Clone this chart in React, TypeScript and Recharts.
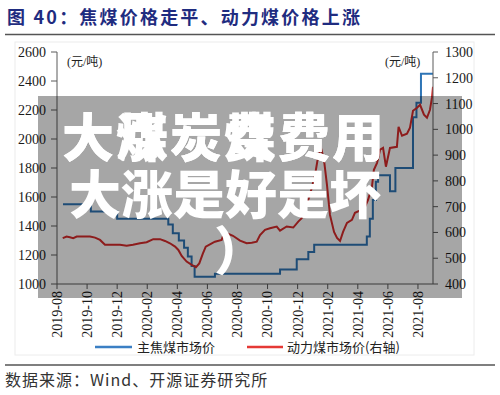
import React from 'react';
import { LineChart, Line, XAxis, YAxis } from 'recharts';

// 主焦煤市场价 (left axis), step series: month index from 2019-08
const cokingMonths = [0.4, 2.25, 4.0, 7.4, 7.7, 8.1, 8.45, 8.7, 8.95, 9.15, 10.5, 14.83, 15.94, 16.71, 17.1, 20.6, 20.8, 21.0, 21.2, 21.35, 22.14, 22.5, 23.67, 23.9, 24.2, 25.0];
const cokingPrices = [1550, 1500, 1450, 1410, 1350, 1300, 1250, 1190, 1125, 1050, 1070, 1100, 1170, 1220, 1270, 1327, 1450, 1580, 1706, 1750, 1640, 1800, 2150, 2250, 2450, 2450];

// 动力煤市场价 (right axis)
const thermalMonths = [0.38, 0.64, 0.86, 1.08, 1.31, 2.19, 2.53, 2.86, 3.19, 3.52, 4.19, 4.63, 5.05, 5.52, 5.96, 6.4, 6.85, 7.18, 7.51, 7.85, 8.07, 8.29, 8.62, 8.96, 9.24, 9.46, 9.69, 9.89, 10.29, 10.5, 10.95, 11.06, 11.28, 11.7, 12.17, 12.61, 12.95, 13.28, 13.5, 13.83, 14.16, 14.61, 14.83, 15.27, 15.71, 16.04, 16.27, 16.49, 16.82, 17.16, 17.35, 17.55, 17.75, 17.95, 18.15, 18.42, 18.62, 18.82, 19.02, 19.28, 19.61, 19.81, 20.28, 20.48, 20.68, 20.94, 21.07, 21.28, 21.48, 21.68, 21.87, 22.14, 22.6, 22.71, 22.94, 23.27, 23.47, 23.67, 23.94, 24.14, 24.4, 24.6, 24.8, 24.93, 25.0];
const thermalPrices = [578, 584, 581, 578, 584, 584, 580, 571, 552, 552, 552, 548, 552, 558, 562, 574, 574, 567, 558, 545, 532, 509, 487, 474, 465, 480, 517, 545, 558, 564, 571, 590, 597, 587, 568, 558, 560, 564, 590, 610, 616, 623, 607, 623, 619, 642, 655, 688, 746, 824, 890, 928, 882, 785, 668, 602, 579, 567, 602, 637, 649, 676, 688, 699, 726, 777, 843, 870, 921, 928, 855, 928, 932, 1010, 975, 983, 1006, 1072, 1084, 1095, 1057, 1045, 1076, 1123, 1165];

const xTickMonths = [0, 2, 4, 6, 8, 10, 12, 14, 16, 18, 20, 22, 24];
const xTickLabels = ['2019-08', '2019-10', '2019-12', '2020-02', '2020-04', '2020-06', '2020-08', '2020-10', '2020-12', '2021-02', '2021-04', '2021-06', '2021-08'];
const leftTicks = [1000, 1200, 1400, 1600, 1800, 2000, 2200, 2400, 2600];
const rightTicks = [400, 500, 600, 700, 800, 900, 1000, 1100, 1200, 1300];

const cokingData = cokingMonths.map((m, i) => ({ m, v: cokingPrices[i] }));
const thermalData = thermalMonths.map((m, i) => ({ m, v: thermalPrices[i] }));

const BLUE = '#2E75B6';
const RED = '#D92B2B';
const AXIS = '#5a5a5a';
const SERIF = '"Liberation Serif", "Times New Roman", "Noto Sans CJK SC", serif';
const CJK = '"Noto Sans CJK SC", sans-serif';

const XTick = (props: any) => {
  const { x, y, payload } = props;
  const idx = xTickMonths.indexOf(payload.value);
  return (
    <g transform={`translate(${x},${y})`}>
      <text transform="rotate(-90)" x={0} y={0} dy="0.35em" textAnchor="end" fontSize={14} fontFamily={SERIF} fill="#1a1a1a">
        {idx >= 0 ? xTickLabels[idx] : ''}
      </text>
    </g>
  );
};

export default function App() {
  return (
    <div style={{ position: 'absolute', left: 0, top: 0, width: 500, height: 395, background: '#fff', overflow: 'hidden' }}>
      <svg width={500} height={395} style={{ position: 'absolute', left: 0, top: 0 }}>
        <rect x={15} y={42} width={459} height={313} fill="none" stroke="#ececec" strokeWidth={1} />
      </svg>
      <div style={{ position: 'absolute', left: 0, top: 0 }}>
        <LineChart width={500} height={395} margin={{ top: 52, right: 0, bottom: 0, left: 0 }}>
          <XAxis
            xAxisId="x"
            dataKey="m"
            type="number"
            domain={[0, 25]}
            ticks={xTickMonths}
            interval={0}
            height={111}
            stroke={AXIS}
            tickSize={5}
            tickMargin={2}
            tick={<XTick />}
            allowDataOverflow
          />
          <YAxis
            yAxisId="left"
            orientation="left"
            domain={[1000, 2600]}
            ticks={leftTicks}
            interval={0}
            width={57}
            stroke={AXIS}
            tickSize={6}
            tickMargin={5}
            tick={{ fontSize: 14, fontFamily: SERIF, fill: '#1a1a1a' }}
          />
          <YAxis
            yAxisId="right"
            orientation="right"
            domain={[400, 1300]}
            ticks={rightTicks}
            interval={0}
            width={67}
            stroke={AXIS}
            tickSize={5}
            tickMargin={7}
            tick={{ fontSize: 14, fontFamily: SERIF, fill: '#1a1a1a' }}
          />
          <Line
            xAxisId="x"
            yAxisId="left"
            data={cokingData}
            dataKey="v"
            type="stepAfter"
            stroke={BLUE}
            strokeWidth={2}
            dot={false}
            isAnimationActive={false}
          />
          <Line
            xAxisId="x"
            yAxisId="right"
            data={thermalData}
            dataKey="v"
            type="linear"
            stroke={RED}
            strokeWidth={2}
            dot={false}
            isAnimationActive={false}
          />
        </LineChart>
      </div>
      <svg width={500} height={395} style={{ position: 'absolute', left: 0, top: 0, pointerEvents: 'none' }}>
        <text x={7} y={24} fontSize={18} fontWeight={700} fontFamily={CJK} fill="#1F2C80" letterSpacing={2.2}>
          图 40：焦煤价格走平、动力煤价格上涨
        </text>
        <line x1={5} y1={34.5} x2={495} y2={34.5} stroke="#555" strokeWidth={1.5} />
        <text x={67} y={66} fontSize={12} fontFamily={SERIF} fill="#222">(元/吨)</text>
        <text x={385} y={66} fontSize={12} fontFamily={SERIF} fill="#222">(元/吨)</text>

        <rect x={38} y={96} width={424} height={202} fill="rgba(0,0,0,0.35)" />
        <g fontFamily={CJK} fontWeight={900} fontSize={52} fill="#fff">
          <text x={62} y={157} letterSpacing={2}>大煤炭煤费用</text>
          <text x={62} y={157} letterSpacing={2}>大涨炭费费用</text>
          <text x={69} y={214}>大涨是好是坏</text>
          <text x={214} y={270}>）</text>
        </g>

        <line x1={95} y1={347} x2={132} y2={347} stroke="#3B7FC4" strokeWidth={2.5} />
        <text x={137} y={351.5} fontSize={13} fontFamily={CJK} fill="#222">主焦煤市场价</text>
        <line x1={247} y1={347} x2={283} y2={347} stroke="#E53935" strokeWidth={2.5} />
        <text x={287} y={351.5} fontSize={13} fontFamily={CJK} fill="#222">动力煤市场价(右轴)</text>

        <line x1={5} y1={365} x2={495} y2={365} stroke="#555" strokeWidth={1.5} />
        <text x={5} y={386} fontSize={16} fontFamily={CJK} fill="#333" letterSpacing={1}>数据来源：Wind、开源证券研究所</text>
      </svg>
    </div>
  );
}
